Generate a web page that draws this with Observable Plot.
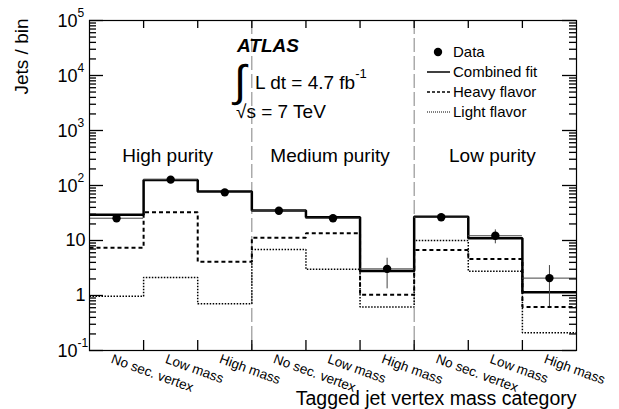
<!DOCTYPE html>
<html><head><meta charset="utf-8">
<script src="https://cdn.jsdelivr.net/npm/d3@7"></script>
<script src="https://cdn.jsdelivr.net/npm/@observablehq/plot@0.6"></script>
<style>
html,body{margin:0;padding:0;background:#fff;}
svg{font-family:"Liberation Sans",Arial,Helvetica,sans-serif;}
</style></head><body><div id="chart"></div>
<script>
// ---- data ----
const categories = ["No sec. vertex","Low mass","High mass","No sec. vertex","Low mass","High mass","No sec. vertex","Low mass","High mass"];
const purities = ["High purity","Medium purity","Low purity"];
const combinedFit = [29.5,126,78,35,26.5,2.8,27,11,1.15];
const heavyFlavor = [7.4,32.7,4.1,11.2,13.6,1.03,6.7,4.6,0.62];
const lightFlavor = [0.97,2.12,0.71,6.85,3.0,0.62,10,2.77,0.21];
const dataValues = [25.4,128,75,34.7,25.4,3.05,26.5,12.2,2.07];
const dataErrLow = [23.5,121,71,32.5,23.8,1.32,24.8,8.7,0.63];
const dataErrHigh = [27.5,135,79,37,27,4.76,28.3,15.6,3.5];
const yTicksMajor = [0.1,1,10,100,1000,10000,100000];
const yTickBase = ["10","1","10","10","10","10","10"];
const yTickExp = ["-1","","","2","3","4","5"];
const legendLabels = ["Data","Combined fit","Heavy flavor","Light flavor"];

const W = 619, H = 409, mL = 89, mR = 43, mT = 20, mB = 59;
const xDomain = [0,9], yDomain = [0.1,1e5];
const xPerPx = (xDomain[1]-xDomain[0])/(W-mL-mR);
const decPerPx = Math.log10(yDomain[1]/yDomain[0])/(H-mT-mB);

const idx = d3.range(categories.length);
const steps = s => [...s.map((v,i)=>({x:i,y:v})), {x:s.length,y:s[s.length-1]}];
const minorTicks = [];
for (let d=-1; d<=4; d++) for (let m=2; m<=9; m++) minorTicks.push(m*Math.pow(10,d));
const edges = d3.range(1,9);
const font = '"Liberation Sans",Arial,Helvetica,sans-serif';
const expIdx = yTicksMajor.map((v,i)=>i).filter(i=>yTickExp[i]!=="");
const plainIdx = yTicksMajor.map((v,i)=>i).filter(i=>yTickExp[i]==="");
const tk = {stroke:"black", strokeWidth:1.3};

const chart = Plot.plot({
  width: W, height: H,
  marginLeft: mL, marginRight: mR, marginTop: mT, marginBottom: mB,
  x: {domain: xDomain, axis: null},
  y: {type: "log", domain: yDomain, axis: null},
  style: {fontFamily: font, background: "white", color: "black"},
  marks: [
    Plot.ruleX([3,6], {stroke: "#808080", strokeWidth: 1, strokeDasharray: "14,4"}),
    Plot.line(steps(lightFlavor), {x:"x", y:"y", curve:"step-after", stroke:"black", strokeWidth:1.5, strokeDasharray:"1.5,1.5", strokeLinejoin:"miter", strokeLinecap:"butt"}),
    Plot.line(steps(heavyFlavor), {x:"x", y:"y", curve:"step-after", stroke:"black", strokeWidth:2, strokeDasharray:"4,3", strokeLinejoin:"miter", strokeLinecap:"butt"}),
    Plot.line(steps(combinedFit), {x:"x", y:"y", curve:"step-after", stroke:"black", strokeWidth:2.5, strokeLinejoin:"miter", strokeLinecap:"butt"}),
    Plot.ruleY(idx, {x1: i=>i, x2: i=>i+1, y: i=>dataValues[i], stroke:"#444", strokeWidth:1}),
    Plot.ruleX(idx, {x: i=>i+0.5, y1: i=>dataErrLow[i], y2: i=>dataErrHigh[i], stroke:"#444", strokeWidth:1}),
    Plot.dot(idx, {x: i=>i+0.5, y: i=>dataValues[i], r:4.2, fill:"black", stroke:"none"}),
    // y ticks left/right (major 14px, minor 7px, inward)
    Plot.ruleY(yTicksMajor, {y:d=>d, x1:0, x2:14*xPerPx, ...tk}),
    Plot.ruleY(minorTicks, {y:d=>d, x1:0, x2:7*xPerPx, ...tk}),
    Plot.ruleY(yTicksMajor, {y:d=>d, x1:9, x2:9-14*xPerPx, ...tk}),
    Plot.ruleY(minorTicks, {y:d=>d, x1:9, x2:9-7*xPerPx, ...tk}),
    // x ticks bottom/top (inward)
    Plot.ruleX(edges, {x:d=>d, y1:yDomain[0], y2:yDomain[0]*Math.pow(10,10*decPerPx), ...tk}),
    Plot.ruleX(edges, {x:d=>d, y1:yDomain[1], y2:yDomain[1]/Math.pow(10,8*decPerPx), ...tk}),
    Plot.frame({stroke:"black", strokeWidth:1.2}),
    // y tick labels
    Plot.text(plainIdx, {frameAnchor:"left", y:i=>yTicksMajor[i], text:i=>yTickBase[i], textAnchor:"end", dx:-4, fontSize:18}),
    Plot.text(expIdx, {frameAnchor:"left", y:i=>yTicksMajor[i], text:i=>yTickBase[i], textAnchor:"end", dx:-12, dy:1, fontSize:18}),
    Plot.text(expIdx, {frameAnchor:"left", y:i=>yTicksMajor[i], text:i=>yTickExp[i], textAnchor:"start", dx:-12, dy:-7, fontSize:12}),
    // x category labels
    Plot.text(idx, {x:i=>i+0.5, frameAnchor:"bottom", text:i=>categories[i], textAnchor:"start", lineAnchor:"top", rotate:20, dx:-3, dy:3, fontSize:13.5}),
    // purity labels
    Plot.text([0,1,2], {x:i=>3*i+1.5, y:262, text:i=>purities[i], textAnchor:"middle", lineAnchor:"bottom", dx:-3, fontSize:19}),
    // axis titles
    Plot.text(["Tagged jet vertex mass category"], {frameAnchor:"bottom-right", textAnchor:"end", lineAnchor:"bottom", dy:54, fontSize:19.5}),
    Plot.text(["Jets / bin"], {frameAnchor:"top-left", textAnchor:"end", lineAnchor:"bottom", rotate:-90, dx:-62, dy:-2, fontSize:19})
  ]
});
document.getElementById("chart").appendChild(chart);

// ---- annotations & legend ----
const svg = d3.select(chart);
const g = svg.append("g").attr("font-family", font).attr("fill","black").attr("text-anchor","start");
g.append("text").attr("x",237).attr("y",52).attr("font-size",19).attr("font-weight","bold").attr("font-style","italic").text("ATLAS");
g.append("text").attr("x",234).attr("y",96).attr("font-size",44).text("\u222B");
const t1 = g.append("text").attr("x",255).attr("y",89).attr("font-size",19);
t1.append("tspan").text("L dt = 4.7 fb");
t1.append("tspan").attr("font-size",13).attr("dy",-11).text("-1");
g.append("text").attr("x",236).attr("y",118).attr("font-size",19).text("\u221As = 7 TeV");

const ly = [52,72,92,112];
g.append("circle").attr("cx",438).attr("cy",ly[0]).attr("r",4.2);
g.append("line").attr("x1",427).attr("x2",450).attr("y1",ly[1]).attr("y2",ly[1]).attr("stroke","black").attr("stroke-width",1.5);
g.append("line").attr("x1",427).attr("x2",450).attr("y1",ly[2]).attr("y2",ly[2]).attr("stroke","black").attr("stroke-width",1.5).attr("stroke-dasharray","3,2");
g.append("line").attr("x1",427).attr("x2",450).attr("y1",ly[3]).attr("y2",ly[3]).attr("stroke","black").attr("stroke-width",1).attr("stroke-dasharray","1,1");
legendLabels.forEach((s,i)=>{
  g.append("text").attr("x",453).attr("y",ly[i]).attr("dy","0.35em").attr("font-size",15).text(s);
});
</script></body></html>
